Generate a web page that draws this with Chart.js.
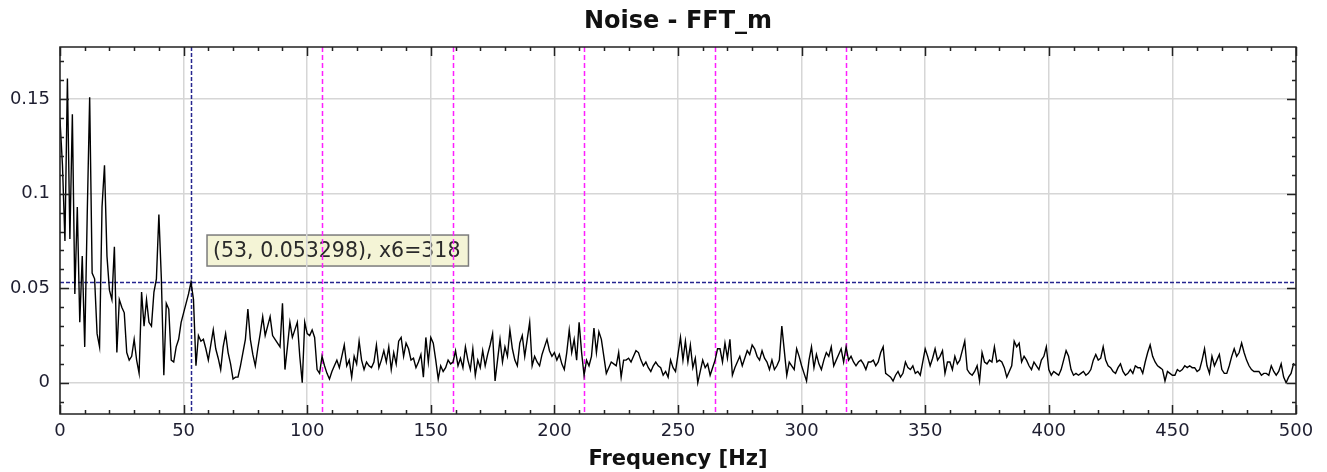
<!DOCTYPE html>
<html>
<head>
<meta charset="utf-8">
<title>Noise - FFT_m</title>
<script src="https://cdn.jsdelivr.net/npm/chart.js@4/dist/chart.umd.min.js"></script>
<style>
  html, body { margin: 0; padding: 0; background: #ffffff; }
  #wrap { width: 1327px; height: 472px; }
</style>
</head>
<body>
<div id="wrap"><canvas id="fft" width="1327" height="472"></canvas></div>
<script>
// FFT magnitude of the noise signal, one bin per Hz (0 .. 500 Hz)
const FFT_M = [
  0.139, 0.115, 0.075, 0.161, 0.076, 0.142, 0.047, 0.093, 0.032, 0.067,
  0.019, 0.088, 0.151, 0.058, 0.055, 0.026, 0.019, 0.093, 0.115, 0.067,
  0.049, 0.044, 0.072, 0.016, 0.044, 0.040, 0.037, 0.016, 0.012, 0.014,
  0.023, 0.012, 0.005, 0.048, 0.030, 0.044, 0.032, 0.030, 0.048, 0.055,
  0.089, 0.055, 0.004, 0.042, 0.039, 0.012, 0.011, 0.019, 0.023, 0.032,
  0.037, 0.042, 0.047, 0.053298, 0.044, 0.009, 0.025, 0.022, 0.023, 0.018,
  0.012, 0.020, 0.028, 0.018, 0.013, 0.007, 0.019, 0.026, 0.016, 0.010,
  0.002, 0.003, 0.003, 0.009, 0.016, 0.023, 0.039, 0.023, 0.015, 0.009,
  0.018, 0.026, 0.035, 0.025, 0.030, 0.035, 0.025, 0.023, 0.021, 0.019,
  0.042, 0.007, 0.019, 0.032, 0.024, 0.028, 0.032, 0.014, 0.000, 0.032,
  0.026, 0.025, 0.028, 0.024, 0.007, 0.005, 0.014, 0.009, 0.005, 0.002,
  0.006, 0.009, 0.012, 0.008, 0.014, 0.020, 0.009, 0.012, 0.003, 0.014,
  0.010, 0.022, 0.012, 0.007, 0.011, 0.009, 0.008, 0.011, 0.020, 0.008,
  0.012, 0.017, 0.011, 0.019, 0.007, 0.016, 0.010, 0.022, 0.024, 0.014,
  0.021, 0.018, 0.012, 0.013, 0.008, 0.011, 0.015, 0.003, 0.024, 0.011,
  0.024, 0.021, 0.012, 0.002, 0.009, 0.006, 0.008, 0.012, 0.010, 0.011,
  0.017, 0.009, 0.013, 0.008, 0.019, 0.012, 0.007, 0.018, 0.004, 0.012,
  0.008, 0.017, 0.009, 0.015, 0.020, 0.026, 0.001, 0.012, 0.023, 0.011,
  0.019, 0.014, 0.028, 0.018, 0.012, 0.009, 0.021, 0.025, 0.014, 0.023,
  0.032, 0.009, 0.014, 0.011, 0.009, 0.015, 0.019, 0.023, 0.017, 0.014,
  0.016, 0.012, 0.015, 0.010, 0.007, 0.016, 0.028, 0.016, 0.023, 0.012,
  0.032, 0.016, 0.004, 0.012, 0.009, 0.014, 0.029, 0.016, 0.027, 0.023,
  0.014, 0.005, 0.008, 0.011, 0.010, 0.009, 0.016, 0.003, 0.012, 0.012,
  0.013, 0.011, 0.014, 0.017, 0.016, 0.012, 0.009, 0.011, 0.008, 0.006,
  0.009, 0.011, 0.009, 0.008, 0.004, 0.006, 0.003, 0.012, 0.008, 0.006,
  0.015, 0.024, 0.012, 0.022, 0.011, 0.020, 0.008, 0.013, 0.000, 0.006,
  0.012, 0.008, 0.010, 0.004, 0.008, 0.012, 0.018, 0.018, 0.011, 0.021,
  0.013, 0.023, 0.004, 0.008, 0.011, 0.014, 0.009, 0.013, 0.017, 0.015,
  0.020, 0.018, 0.014, 0.012, 0.017, 0.013, 0.011, 0.007, 0.012, 0.007,
  0.009, 0.012, 0.030, 0.017, 0.004, 0.011, 0.009, 0.007, 0.018, 0.014,
  0.009, 0.005, 0.001, 0.012, 0.019, 0.008, 0.015, 0.010, 0.007, 0.012,
  0.016, 0.014, 0.019, 0.009, 0.012, 0.015, 0.018, 0.011, 0.019, 0.012,
  0.014, 0.011, 0.009, 0.011, 0.012, 0.010, 0.007, 0.011, 0.011, 0.012,
  0.009, 0.011, 0.016, 0.019, 0.005, 0.004, 0.003, 0.001, 0.004, 0.006,
  0.003, 0.005, 0.011, 0.008, 0.007, 0.009, 0.005, 0.006, 0.004, 0.011,
  0.018, 0.014, 0.009, 0.013, 0.018, 0.012, 0.014, 0.017, 0.005, 0.011,
  0.011, 0.007, 0.014, 0.010, 0.012, 0.017, 0.022, 0.007, 0.005, 0.004,
  0.006, 0.009, 0.001, 0.016, 0.011, 0.010, 0.012, 0.011, 0.019, 0.011,
  0.012, 0.011, 0.008, 0.003, 0.006, 0.009, 0.022, 0.019, 0.021, 0.011,
  0.014, 0.012, 0.009, 0.007, 0.011, 0.009, 0.007, 0.012, 0.014, 0.019,
  0.007, 0.004, 0.006, 0.005, 0.004, 0.007, 0.012, 0.017, 0.014, 0.007,
  0.004, 0.005, 0.004, 0.005, 0.006, 0.004, 0.005, 0.007, 0.012, 0.015,
  0.012, 0.013, 0.019, 0.012, 0.009, 0.008, 0.006, 0.005, 0.008, 0.010,
  0.006, 0.004, 0.005, 0.007, 0.005, 0.009, 0.008, 0.008, 0.005, 0.011,
  0.016, 0.020, 0.014, 0.011, 0.009, 0.008, 0.007, 0.001, 0.006, 0.005,
  0.004, 0.004, 0.007, 0.006, 0.007, 0.009, 0.008, 0.009, 0.008, 0.008,
  0.006, 0.007, 0.012, 0.018, 0.009, 0.005, 0.014, 0.009, 0.012, 0.015,
  0.007, 0.005, 0.005, 0.009, 0.014, 0.018, 0.014, 0.016, 0.021, 0.016,
  0.012, 0.009, 0.007, 0.006, 0.006, 0.006, 0.004, 0.005, 0.005, 0.004,
  0.009, 0.006, 0.004, 0.006, 0.010, 0.003, 0.000, 0.003, 0.005, 0.010,
  0.009
];

// Frequency of each bin in Hz
const FREQ_HZ = FFT_M.map((_, i) => i);

// Axis ticks
const X_TICKS = [0, 50, 100, 150, 200, 250, 300, 350, 400, 450, 500];
const Y_TICKS = [0, 0.05, 0.1, 0.15];
const X_MIN = 0, X_MAX = 500;
const Y_MIN = -0.0165, Y_MAX = 0.1776;
const X_MINOR_STEP = 10;
const Y_MINOR_STEP = 0.01;

// Cursor and its harmonics
const CURSOR_HZ = 53;
const CURSOR_INDEX = FREQ_HZ.indexOf(CURSOR_HZ);
const CURSOR_VAL = FFT_M[CURSOR_INDEX];
const HARMONICS = [106, 159, 212, 265, 318];
const HARMONIC_ORDER = 6;

const TITLE = 'Noise - FFT_m';
const X_TITLE = 'Frequency [Hz]';
const FONT = '"DejaVu Sans", "Liberation Sans", Arial, sans-serif';

function fmtTick(v) {
  return String(Math.round(v * 1000) / 1000);
}

// Overlays: cursor note box (behind the grid), harmonic + cursor markers, frame with inward ticks, title
const overlays = {
  id: 'overlays',
  beforeDraw(chart) {
    const { ctx } = chart;
    const xs = chart.scales.x;
    const ys = chart.scales.y;
    // cursor read-out box
    const label = '(' + CURSOR_HZ + ', ' + CURSOR_VAL.toFixed(6) + '), x' + HARMONIC_ORDER + '=' + HARMONICS[HARMONICS.length - 1];
    ctx.save();
    ctx.font = '20.5px ' + FONT;
    const w = ctx.measureText(label).width;
    const bx = xs.getPixelForValue(CURSOR_HZ) + 16;
    const by = ys.getPixelForValue(CURSOR_VAL) - 47;
    const bw = w + 14, bh = 31;
    ctx.fillStyle = '#f4f4d6';
    ctx.fillRect(bx, by, bw, bh);
    ctx.strokeStyle = '#7c7c7c';
    ctx.lineWidth = 1.5;
    ctx.strokeRect(bx, by, bw, bh);
    ctx.fillStyle = '#2a2a2a';
    ctx.textBaseline = 'middle';
    ctx.textAlign = 'left';
    ctx.fillText(label, bx + 6, by + bh / 2 + 1);
    ctx.restore();
  },
  beforeDatasetsDraw(chart) {
    const { ctx, chartArea: a } = chart;
    const xs = chart.scales.x;
    const ys = chart.scales.y;
    ctx.save();
    // harmonic markers
    ctx.strokeStyle = '#ff1eff';
    ctx.lineWidth = 1.5;
    ctx.setLineDash([5, 3]);
    HARMONICS.forEach(h => {
      const px = Math.round(xs.getPixelForValue(h)) + 0.5;
      ctx.beginPath();
      ctx.moveTo(px, a.top);
      ctx.lineTo(px, a.bottom);
      ctx.stroke();
    });
    // cursor cross-hair
    ctx.strokeStyle = '#26268f';
    ctx.setLineDash([4, 2]);
    const cx = Math.round(xs.getPixelForValue(CURSOR_HZ)) + 0.5;
    const cy = Math.round(ys.getPixelForValue(CURSOR_VAL)) + 0.5;
    ctx.beginPath();
    ctx.moveTo(cx, a.top);
    ctx.lineTo(cx, a.bottom);
    ctx.moveTo(a.left, cy);
    ctx.lineTo(a.right, cy);
    ctx.stroke();
    ctx.restore();
  },
  afterDraw(chart) {
    const { ctx, chartArea: a } = chart;
    const xs = chart.scales.x;
    const ys = chart.scales.y;
    ctx.save();
    ctx.strokeStyle = '#222';
    ctx.lineWidth = 1.5;
    ctx.setLineDash([]);
    ctx.strokeRect(a.left, a.top, a.right - a.left, a.bottom - a.top);
    ctx.beginPath();
    const majorX = new Set(X_TICKS);
    for (let v = X_MIN; v <= X_MAX + 1e-9; v += X_MINOR_STEP) {
      const len = majorX.has(v) ? 9 : 4;
      const px = Math.round(xs.getPixelForValue(v)) + 0.5;
      ctx.moveTo(px, a.bottom); ctx.lineTo(px, a.bottom - len);
      ctx.moveTo(px, a.top); ctx.lineTo(px, a.top + len);
    }
    const first = Math.ceil(Y_MIN / Y_MINOR_STEP);
    const last = Math.floor(Y_MAX / Y_MINOR_STEP);
    for (let k = first; k <= last; k++) {
      const v = k * Y_MINOR_STEP;
      const isMajor = k % 5 === 0;
      const len = isMajor ? 9 : 4;
      const py = Math.round(ys.getPixelForValue(v)) + 0.5;
      ctx.moveTo(a.left, py); ctx.lineTo(a.left + len, py);
      ctx.moveTo(a.right, py); ctx.lineTo(a.right - len, py);
    }
    ctx.stroke();
    // chart title
    ctx.fillStyle = '#111';
    ctx.font = 'bold 24px ' + FONT;
    ctx.textAlign = 'center';
    ctx.textBaseline = 'middle';
    ctx.fillText(TITLE, (a.left + a.right) / 2, 22);
    ctx.restore();
  }
};

new Chart(document.getElementById('fft'), {
  type: 'line',
  data: {
    datasets: [{
      label: 'FFT_m',
      data: FREQ_HZ.map((f, i) => ({ x: f, y: FFT_M[i] })),
      borderColor: '#000000',
      borderWidth: 1.4,
      pointRadius: 0,
      tension: 0,
      fill: false
    }]
  },
  options: {
    responsive: false,
    devicePixelRatio: 1,
    animation: false,
    events: [],
    layout: { padding: { top: 47, right: 31, left: 0, bottom: 0 } },
    plugins: {
      legend: { display: false },
      title: { display: false },
      tooltip: { enabled: false }
    },
    scales: {
      x: {
        type: 'linear',
        min: X_MIN,
        max: X_MAX,
        afterBuildTicks(scale) { scale.ticks = X_TICKS.map(v => ({ value: v })); },
        afterFit(scale) { scale.height = 58; },
        grid: { color: '#d6d6d6', lineWidth: 1.5, drawTicks: false },
        border: { display: false },
        ticks: {
          color: '#1e1e30',
          font: { family: FONT, size: 18 },
          padding: 7,
          maxRotation: 0,
          autoSkip: false,
          callback: v => fmtTick(v)
        },
        title: {
          display: true,
          text: X_TITLE,
          color: '#111',
          font: { family: FONT, size: 21, weight: 'bold' },
          padding: { top: 0, bottom: 0 }
        }
      },
      y: {
        type: 'linear',
        min: Y_MIN,
        max: Y_MAX,
        afterBuildTicks(scale) { scale.ticks = Y_TICKS.map(v => ({ value: v })); },
        afterFit(scale) { scale.width = 60; },
        grid: { color: '#d6d6d6', lineWidth: 1.5, drawTicks: false },
        border: { display: false },
        ticks: {
          color: '#1e1e30',
          font: { family: FONT, size: 18 },
          padding: 10,
          autoSkip: false,
          callback: v => fmtTick(v)
        }
      }
    }
  },
  plugins: [overlays]
});
</script>
</body>
</html>
